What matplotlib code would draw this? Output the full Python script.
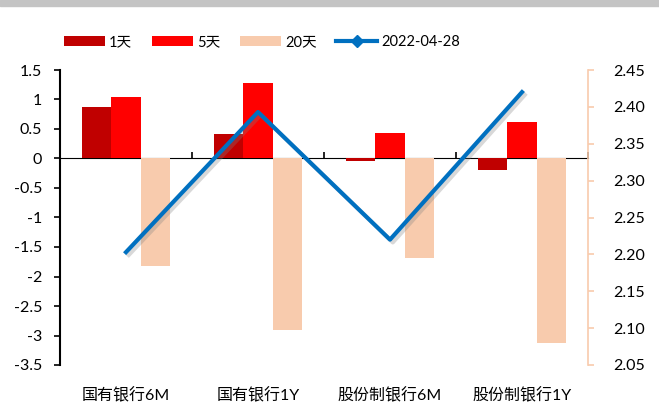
import numpy as np
import matplotlib
matplotlib.use("Agg")
import matplotlib.pyplot as plt
import matplotlib.patheffects as pe
from matplotlib.lines import Line2D
from matplotlib.patches import Rectangle

plt.rcParams['font.family'] = ['Lato', 'Noto Sans CJK SC', 'DejaVu Sans']
plt.rcParams['font.size'] = 11.5

categories = ["国有银行6M", "国有银行1Y", "股份制银行6M", "股份制银行1Y"]
d1 = [0.88, 0.41, -0.05, -0.19]
d5 = [1.04, 1.28, 0.43, 0.62]
d20 = [-1.82, -2.91, -1.68, -3.13]
rate = [2.203, 2.393, 2.220, 2.420]
series_names = ["1天", "5天", "20天"]
line_name = "2022-04-28"

c1 = "#c00000"
c5 = "#ff0000"
c20 = "#f8cbad"
cline = "#0070c0"

fig = plt.figure(figsize=(6.59, 4.05), dpi=100)
fig.patches.append(Rectangle((0, 1 - 6 / 405), 1, 6 / 405, transform=fig.transFigure,
                             color="#c4c4c4", zorder=0))
ax = fig.add_axes([60 / 659, 1 - 365 / 405, 528 / 659, 295 / 405])

x = np.arange(len(categories))
w = 0.222
ax.bar(x - w, d1, w, color=c1, label=series_names[0], zorder=2)
ax.bar(x, d5, w, color=c5, label=series_names[1], zorder=2)
ax.bar(x + w, d20, w, color=c20, label=series_names[2], zorder=2)

ax.set_xlim(-0.5, len(categories) - 0.5)
ax.set_ylim(-3.5, 1.5)
ax.set_yticks(np.arange(-3.5, 1.51, 0.5))
ax.set_yticklabels([f"{v:g}" for v in np.arange(-3.5, 1.51, 0.5)])
ax.set_xticks(x)
ax.set_xticklabels(categories)
ax.tick_params(axis='x', length=0, pad=16)
ax.tick_params(axis='y', length=4, width=1.2, direction='out', pad=9)
for s in ["top", "right", "bottom"]:
    ax.spines[s].set_visible(False)
ax.spines["left"].set_linewidth(1.5)

# zero line with category boundary ticks
zero_ax = ax.secondary_xaxis(3.5 / 5)
zero_ax.set_xticks(np.arange(-0.5, len(categories), 1.0))
zero_ax.set_xticklabels([])
zero_ax.tick_params(length=4, width=1.2, direction='out')
zero_ax.spines["bottom"].set_linewidth(1.5)

ax2 = ax.twinx()
ax2.plot(x, rate, color=cline, lw=3, zorder=3,
         path_effects=[pe.SimpleLineShadow(offset=(2, -2), shadow_color="gray", alpha=0.3),
                       pe.Normal()])
ax2.set_ylim(2.05, 2.45)
ax2.set_yticks(np.arange(2.05, 2.451, 0.05))
ax2.set_yticklabels([f"{v:.2f}" for v in np.arange(2.05, 2.451, 0.05)])
for s in ["top", "left", "bottom"]:
    ax2.spines[s].set_visible(False)
ax2.spines["right"].set_color(c20)
ax2.spines["right"].set_linewidth(1.2)
ax2.tick_params(axis='y', colors=c20, labelcolor="black", length=4, width=1.2, pad=14)

handles, labels = ax.get_legend_handles_labels()
handles.append(Line2D([0], [0], color=cline, lw=3, marker="D", markersize=6))
labels.append(line_name)
fig.legend(handles, labels, loc="center", bbox_to_anchor=(262 / 659, 1 - 42 / 405), ncol=4,
           frameon=False, handlelength=2.8, handleheight=0.75, columnspacing=1.35,
           handletextpad=0.3, fontsize=10.5)

fig.savefig("out.png", dpi=100)
